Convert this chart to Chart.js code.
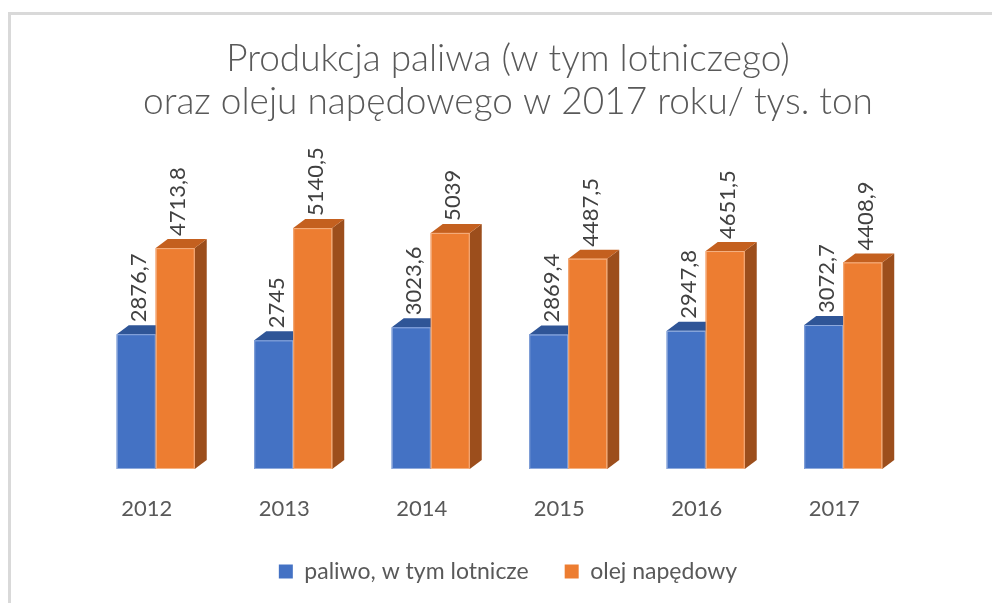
<!DOCTYPE html>
<html>
<head>
<meta charset="utf-8">
<script src="https://cdn.jsdelivr.net/npm/chart.js@4.4.1/dist/chart.umd.min.js"></script>
<style>
  html, body { margin: 0; padding: 0; background: #fff; }
</style>
</head>
<body>
<canvas id="chart" width="992" height="603"></canvas>
<script>
// dane z wykresu
const years = ['2012', '2013', '2014', '2015', '2016', '2017'];
const fuel = [2876.7, 2745, 3023.6, 2869.4, 2947.8, 3072.7];
const diesel = [4713.8, 5140.5, 5039, 4487.5, 4651.5, 4408.9];
const seriesNames = ['paliwo, w tym lotnicze', 'olej napędowy'];
const titleLines = ['Produkcja paliwa (w tym lotniczego)', 'oraz oleju napędowego w 2017 roku/ tys. ton'];

const textColor = '#595959';
const fontFamily = 'Lato, "Open Sans", sans-serif';

// kolory ścian słupków 3D
const shades = [
  { front: '#4472C4', top: '#2F5597', side: '#2B4F8C', edge: '#8FAADC' },
  { front: '#ED7D31', top: '#C4601F', side: '#9C4E1C', edge: '#F4B183' }
];
const depthX = 12;
const depthY = -9;

const fmt = v => String(v).replace('.', ',');

// ramka wokół wykresu
const frame = {
  id: 'frame',
  beforeDraw(chart) {
    const ctx = chart.ctx;
    ctx.save();
    ctx.fillStyle = '#fff';
    ctx.fillRect(0, 0, chart.width, chart.height);
    ctx.fillStyle = '#d9d9d9';
    ctx.fillRect(8, 12, chart.width - 8, 3);
    ctx.fillRect(8, 12, 3, chart.height - 12);
    ctx.restore();
  }
};

// słupki 3D + etykiety danych
const bars3d = {
  id: 'bars3d',
  afterDatasetsDraw(chart) {
    const ctx = chart.ctx;
    const metas = chart.data.datasets.map((d, i) => chart.getDatasetMeta(i));
    ctx.save();
    years.forEach((y, i) => {
      metas.forEach((meta, d) => {
        const bar = meta.data[i];
        const l = bar.x - bar.width / 2, r = bar.x + bar.width / 2;
        const t = bar.y, b = bar.base;
        const s = shades[d];
        // bok
        ctx.fillStyle = s.side;
        ctx.beginPath();
        ctx.moveTo(r, t);
        ctx.lineTo(r + depthX, t + depthY);
        ctx.lineTo(r + depthX, b + depthY);
        ctx.lineTo(r, b);
        ctx.closePath();
        ctx.fill();
        // góra
        ctx.fillStyle = s.top;
        ctx.beginPath();
        ctx.moveTo(l, t);
        ctx.lineTo(l + depthX, t + depthY);
        ctx.lineTo(r + depthX, t + depthY);
        ctx.lineTo(r, t);
        ctx.closePath();
        ctx.fill();
        // front
        ctx.fillStyle = s.front;
        ctx.fillRect(l, t, r - l, b - t);
        ctx.strokeStyle = s.edge;
        ctx.lineWidth = 1;
        ctx.strokeRect(l + 0.5, t + 0.5, r - l - 1, b - t - 1);
      });
    });
    // etykiety
    ctx.fillStyle = '#404040';
    ctx.font = '22px ' + fontFamily;
    ctx.textAlign = 'left';
    ctx.textBaseline = 'middle';
    metas.forEach((meta, d) => {
      const values = chart.data.datasets[d].data;
      meta.data.forEach((bar, i) => {
        ctx.save();
        ctx.translate(bar.x + 3, bar.y + depthY - 3);
        ctx.rotate(-Math.PI / 2);
        ctx.fillText(fmt(values[i]), 0, 0);
        ctx.restore();
      });
    });
    ctx.restore();
  }
};

const hiddenAxis = (pos, w) => ({
  position: pos,
  display: true,
  min: 0,
  max: 7000,
  grid: { display: false },
  border: { display: false },
  ticks: { display: false },
  afterFit(scale) { scale.width = w; }
});

new Chart(document.getElementById('chart'), {
  type: 'bar',
  data: {
    labels: years,
    datasets: [
      { label: seriesNames[0], data: fuel, backgroundColor: shades[0].front },
      { label: seriesNames[1], data: diesel, backgroundColor: shades[1].front }
    ]
  },
  options: {
    responsive: false,
    animation: false,
    devicePixelRatio: 1,
    categoryPercentage: 0.567,
    barPercentage: 1,
    layout: { padding: { left: 40, right: 16, top: 14, bottom: 10 } },
    scales: {
      x: {
        grid: { display: false },
        border: { display: false },
        ticks: {
          color: textColor,
          font: { family: fontFamily, size: 22 },
          labelOffset: -9,
          padding: 19
        },
        afterFit(scale) { scale.height = 55; }
      },
      y: hiddenAxis('left', 47),
      y2: hiddenAxis('right', 64)
    },
    plugins: {
      title: {
        display: true,
        text: titleLines,
        color: textColor,
        font: { family: fontFamily, size: 37, weight: '300', lineHeight: 1.162 },
        padding: { top: 24, bottom: 17 }
      },
      legend: {
        position: 'bottom',
        labels: {
          color: textColor,
          font: { family: fontFamily, size: 23 },
          boxWidth: 14,
          boxHeight: 14,
          padding: 36
        }
      },
      tooltip: { enabled: false }
    }
  },
  plugins: [frame, bars3d]
});
</script>
</body>
</html>
